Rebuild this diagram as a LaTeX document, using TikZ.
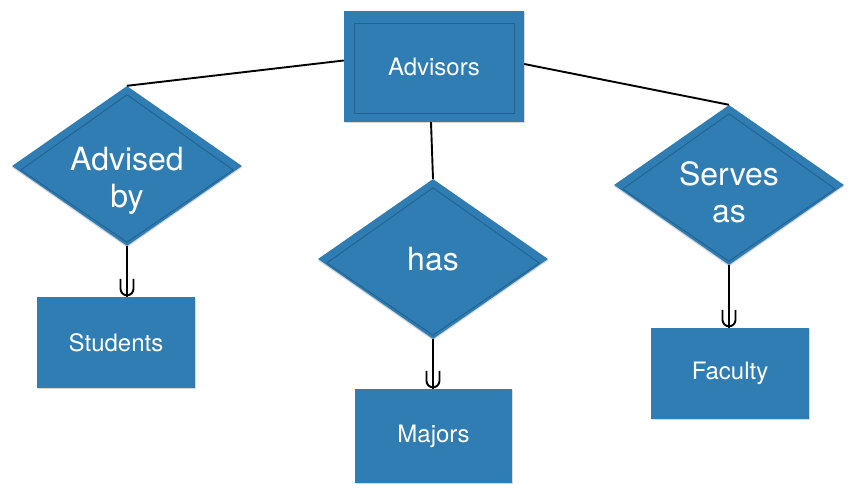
\documentclass[tikz,border=0pt]{standalone}
\usepackage{fontspec}
\setmainfont{TeX Gyre Heros}
\usetikzlibrary{shapes.geometric,shadows}
\definecolor{erblue}{RGB}{47,125,179}
\definecolor{errim}{RGB}{33,98,145}
% tekst relacji przesuniety w dol
\newcommand{\reltext}[2]{\raisebox{#1}[\height][\depth]{\begin{tabular}{@{}c@{}}#2\end{tabular}}}

\begin{document}
\begin{tikzpicture}[
			x=1pt, y=1pt,
			entity/.style={rectangle, fill=erblue, text=white, inner sep=0pt,
				minimum width=158pt, minimum height=91pt, font=\fontsize{24}{28}\selectfont,
				drop shadow={shadow xshift=0.5pt, shadow yshift=-1.5pt, opacity=0.3}},
			relation/.style={diamond, fill=erblue, text=white, inner sep=0pt, aspect=1.44,
				minimum width=230pt, minimum height=160pt, align=center,
				font=\fontsize{32}{37}\selectfont,
				drop shadow={shadow xshift=0pt, shadow yshift=-1.5pt, opacity=0.3}},
			rim/.style={draw=errim, line width=0.9pt},
			conn/.style={draw, black, line width=1.9pt}
			]
			\useasboundingbox (0,0) rectangle (853,494);
			% encje
			\node[entity, minimum width=180pt, minimum height=111pt] (adv) at (434,427.5) {Advisors};
			\draw[rim] ([shift={(11pt,-13pt)}]adv.north west) rectangle ([shift={(-10pt,9pt)}]adv.south east);
			\node[entity] (st) at (116,151.5) {Students};
			\node[entity, minimum width=157pt, minimum height=94pt] (mj) at (433.5,58) {Majors};
			\node[entity] (fc) at (730,120.5) {Faculty};
			% relacje
			\node[relation] (ab) at (127,328) {\reltext{-16pt}{Advised\\by}};
			\node[relation] (has) at (433,235) {has};
			\node[relation] (sv) at (729,309) {\reltext{-12pt}{Serves\\as}};
			\foreach \r in {ab, has, sv} {
				\draw[rim] ([yshift=-9pt]\r.north) -- ([shift={(9pt,-4pt)}]\r.west)
					-- ([yshift=4pt]\r.south) -- ([shift={(-9pt,-4pt)}]\r.east) -- cycle;
			}
			% polaczenia
			\draw[conn] ([yshift=6pt]adv.west) -- (ab.north);
			\draw[conn] ([yshift=2.5pt]adv.east) -- (sv.north);
			\draw[conn] ([xshift=-3pt]adv.south) -- (has.north);
			\foreach \r/\e in {ab/st, has/mj, sv/fc} {
				\draw[conn] (\r.south) -- (\r.south |- \e.north);
				\draw[conn] (\r.south |- \e.north) ++(-6.5,18) -- ++(0,-10)
					arc[start angle=180, end angle=360, radius=6.5] -- ++(0,10);
			}
		\end{tikzpicture}
\end{document}
